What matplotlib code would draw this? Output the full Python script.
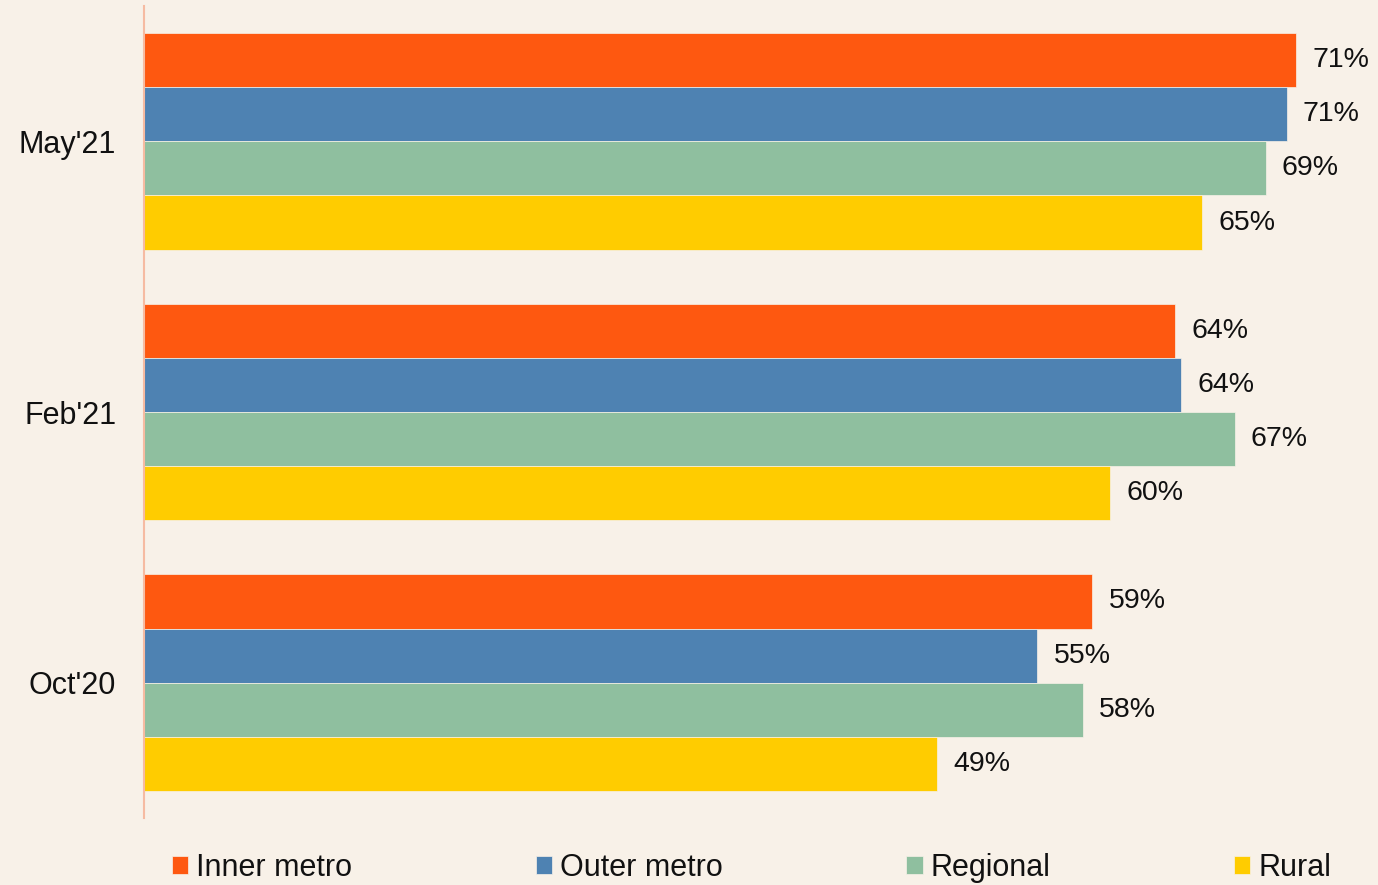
import numpy as np
import matplotlib
matplotlib.use("Agg")
import matplotlib.pyplot as plt

plt.rcParams['font.family'] = ['Liberation Sans', 'DejaVu Sans']

# data (bottom to top on the axis)
periods = ["Oct'20", "Feb'21", "May'21"]
series = ["Inner metro", "Outer metro", "Regional", "Rural"]
inner_metro = [58.6, 63.7, 71.2]
outer_metro = [55.2, 64.1, 70.6]
regional = [58.0, 67.4, 69.3]
rural = [49.0, 59.7, 65.4]

colors = ["#FE5810", "#4E82B2", "#8FBF9F", "#FFCC00"]
bg = "#F8F1E8"

fig = plt.figure(figsize=(13.78, 8.85), dpi=100, facecolor=bg)
ax = fig.add_axes([144 / 1378, 67 / 885, 1230 / 1378, 812 / 885], facecolor=bg)

y = np.arange(len(periods))
h = 0.2
offsets = [0.3, 0.1, -0.1, -0.3]
for vals, name, col, off in zip([inner_metro, outer_metro, regional, rural],
                                series, colors, offsets):
    bars = ax.barh(y + off, vals, height=h, color=col, label=name,
                   edgecolor=bg, linewidth=0.5)
    for b, v in zip(bars, vals):
        ax.text(v + 1.0, b.get_y() + h / 2, f"{v:.0f}%", va="center",
                ha="left", fontsize=20.5, color="#111111")

ax.set_xlim(0, 76)
ax.set_ylim(-0.5, 2.5)
ax.set_yticks(y)
ax.set_yticklabels(periods, fontsize=22, color="#111111")
ax.tick_params(axis="y", length=0, pad=20)
ax.set_xticks([])
for s in ["top", "right", "bottom"]:
    ax.spines[s].set_visible(False)
ax.spines["left"].set_color("#F6BBA2")
ax.spines["left"].set_linewidth(1.5)

fig.legend(loc="center left", bbox_to_anchor=(172 / 1378, 1 - 868 / 885),
           ncol=4, frameon=False, fontsize=22, handlelength=0.53,
           handleheight=0.55, handletextpad=0.27, columnspacing=6.0,
           borderpad=0, borderaxespad=0, labelcolor="#111111")

fig.savefig("out.png", dpi=100, facecolor=bg)
